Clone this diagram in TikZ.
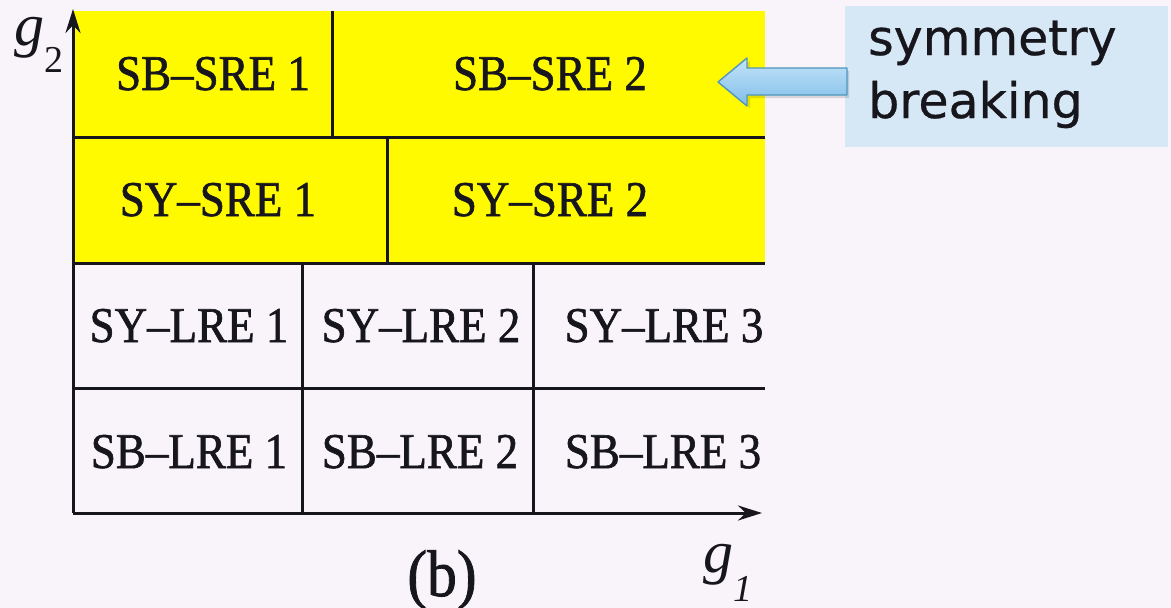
\documentclass[tikz,border=0pt]{standalone}
\usepackage{fontspec}
\setmainfont{Liberation Serif}
\newfontfamily\cellfont[FakeStretch=0.9,FakeBold=1.2]{Liberation Serif}
\newfontfamily\notefont[FakeBold=0.6]{DejaVu Sans}
\usetikzlibrary{arrows.meta}
\definecolor{paper}{RGB}{248,244,250}
\definecolor{band}{RGB}{255,250,0}
\definecolor{notebg}{RGB}{214,232,246}
\definecolor{arrowtop}{RGB}{196,228,250}
\definecolor{arrowbot}{RGB}{128,190,232}
\definecolor{arrowedge}{RGB}{80,150,190}
\definecolor{ink}{RGB}{22,22,28}
\begin{document}
\begin{tikzpicture}[x=1pt,y=-1pt,
  grid/.style={line width=3pt, draw=ink},
  axis/.style={grid, -{Stealth[length=24pt,width=15pt]}},
  cell/.style={font=\cellfont\fontsize{50}{50}\selectfont, anchor=base, inner sep=0pt, text=ink},
  notetext/.style={font=\notefont\fontsize{49}{49}\selectfont, anchor=base west, inner sep=0pt, text=ink}]
  % page and coloured band of the two upper rows
  \useasboundingbox[fill=paper] (0,0) rectangle (1171,608);
  \fill[band] (73,11) rectangle (765,263);

  % axes
  \coordinate (O) at (73,513);
  \coordinate (ytop) at (73,9);
  \coordinate (xend) at (762,513);
  \draw[axis] (O) -- (xend);
  \draw[axis] (O) -- (ytop);

  % row boundaries
  \draw[grid] (73,137) -- (765,137);
  \draw[grid] (73,263) -- (765,263);
  \draw[grid] (73,388) -- (765,388);
  % cell dividers
  \draw[grid] (332,11) -- (332,137);
  \draw[grid] (387,137) -- (387,263);
  \draw[grid] (302,263) -- (302,513);
  \draw[grid] (533,263) -- (533,513);

  % cell labels
  \node[cell] (sbsre1) at (213,90) {SB–SRE 1};
  \node[cell] (sbsre2) at (550,90) {SB–SRE 2};
  \node[cell] (sysre1) at (218,216) {SY–SRE 1};
  \node[cell] (sysre2) at (550,216) {SY–SRE 2};
  \node[cell] (sylre1) at (189,342) {SY–LRE 1};
  \node[cell] (sylre2) at (421,342) {SY–LRE 2};
  \node[cell] (sylre3) at (664,342) {SY–LRE 3};
  \node[cell] (sblre1) at (189,468) {SB–LRE 1};
  \node[cell] (sblre2) at (420,468) {SB–LRE 2};
  \node[cell] (sblre3) at (663,468) {SB–LRE 3};

  % axis names and caption
  \node[anchor=base west, inner sep=0pt, text=ink] (g2) at (14,45)
    {{\fontsize{60}{60}\selectfont\textit{g}}\raisebox{-27pt}{\fontsize{38}{38}\selectfont 2}};
  \node[anchor=base west, inner sep=0pt, text=ink] (g1) at (703,572)
    {{\fontsize{60}{60}\selectfont\textit{g}}\raisebox{-29pt}{\fontsize{38}{38}\selectfont\textit{1}}};
  \node[anchor=base, inner sep=0pt, text=ink, font=\cellfont\fontsize{66}{66}\selectfont] (cap) at (442,596) {(b)};

  % note box with its pointer
  \node[fill=notebg, anchor=north west, minimum width=323pt, minimum height=141pt, inner sep=0pt] (note) at (845,6) {};
  \node[notetext] (w1) at (868,55) {symmetry};
  \node[notetext] (w2) at (868,118) {breaking};
  \fill[black, opacity=0.12] (721,85) -- (750,61) -- (750,71) -- (849,71) -- (849,98) -- (750,98) -- (750,108) -- cycle;
  \shadedraw[top color=arrowtop, bottom color=arrowbot, draw=arrowedge, line width=1.4pt, line join=round]
    (718,82) -- (747,58) -- (747,68) -- (847,68) -- (847,95) -- (747,95) -- (747,106) -- cycle;
\end{tikzpicture}
\end{document}
